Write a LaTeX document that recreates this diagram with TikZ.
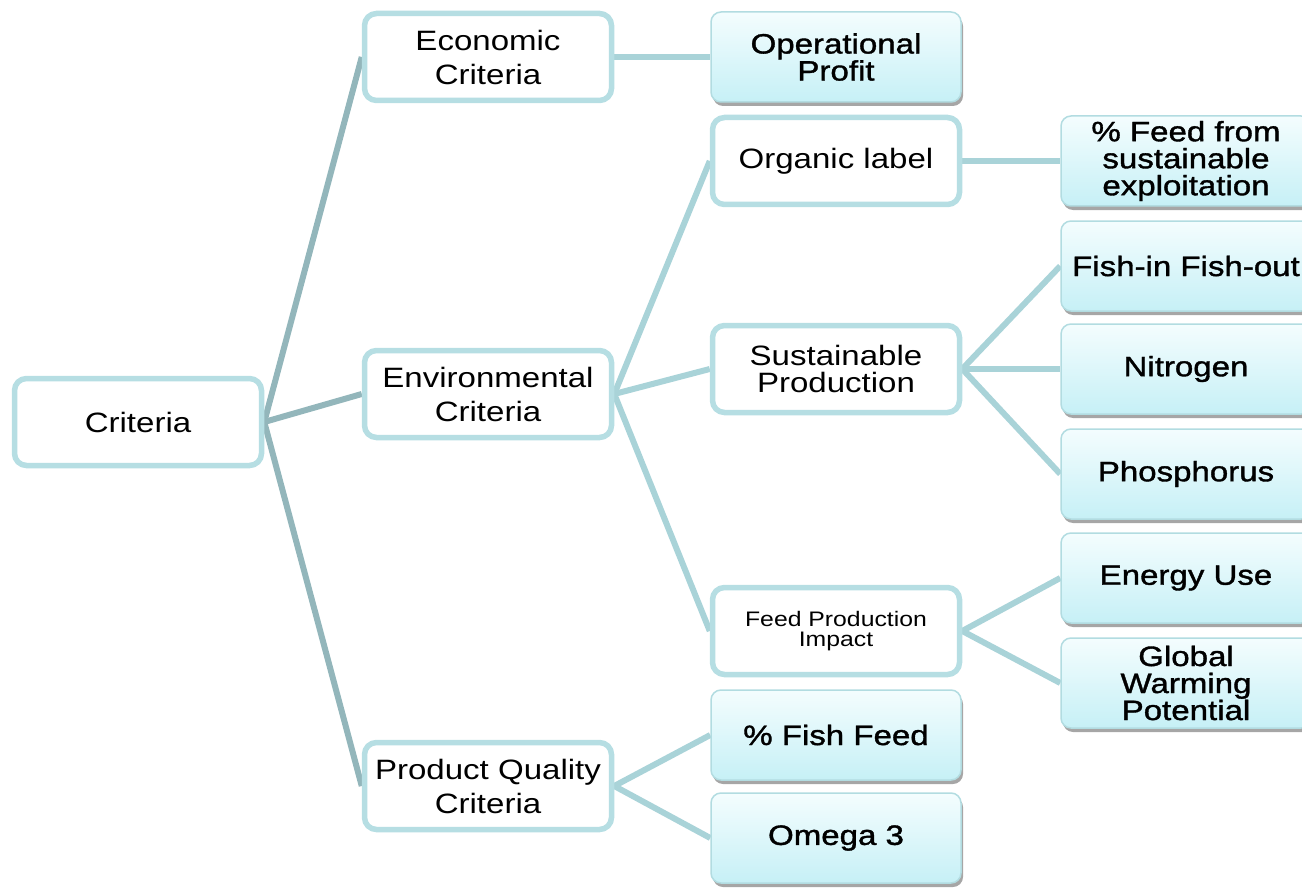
\documentclass[tikz,border=0pt]{standalone}
\usepackage{fontspec}
\setmainfont[FakeStretch=1.18]{Liberation Sans}
\newfontfamily\leaffont[FakeStretch=1.18, FakeBold=1.3]{Liberation Sans}
\usetikzlibrary{shadows,backgrounds}

\definecolor{boxline}{HTML}{B6DEE3}
\definecolor{rootline}{HTML}{93B6BB}
\definecolor{branchline}{HTML}{A9D3D8}
\definecolor{leafline}{HTML}{B2DCE1}
\definecolor{leaftop}{HTML}{F4FDFE}
\definecolor{leafbot}{HTML}{C6F0F6}

\tikzset{
  plainbox/.style={draw=boxline, line width=5.5pt, rounded corners=12pt, fill=white,
    minimum width=247pt, minimum height=87pt, align=center, inner sep=2pt,
    font=\fontsize{28}{34}\selectfont},
  leafbox/.style={draw=leafline, line width=1.5pt, rounded corners=10pt,
    top color=leaftop, bottom color=leafbot,
    drop shadow={shadow xshift=2pt, shadow yshift=-4pt, fill=black, opacity=0.35},
    minimum width=250pt, minimum height=90pt, align=center, inner sep=2pt,
    font=\leaffont\fontsize{28}{27}\selectfont},
  rootlink/.style={draw=rootline, line width=6pt},
  link/.style={draw=branchline, line width=6pt},
}

\begin{document}
\begin{tikzpicture}[x=1pt, y=-1pt]
\useasboundingbox (0,0) rectangle (1302,888);
\clip (0,0) rectangle (1302,888);

% first level
\node[plainbox] (crit) at (138,422) {Criteria};

% second level
\node[plainbox] (econ) at (488,57) {Economic\\Criteria};
\node[plainbox] (env)  at (488,394) {Environmental\\Criteria};
\node[plainbox] (qual) at (488,786) {Product Quality\\Criteria};

% third level
\node[leafbox]  (profit)  at (836,57) {Operational\\Profit};
\node[plainbox] (organic) at (836,161) {Organic label};
\node[plainbox, font=\fontsize{28}{27}\selectfont] (sustprod) at (836,369) {Sustainable\\Production};
\node[plainbox, font=\fontsize{21}{20}\selectfont] (feedimp) at (836,631) {Feed Production\\Impact};
\node[leafbox]  (fishfeed) at (836,735) {\% Fish Feed};
\node[leafbox]  (omega)    at (836,838) {Omega 3};

% fourth level
\node[leafbox] (sustfeed) at (1186,161) {\% Feed from\\sustainable\\exploitation};
\node[leafbox] (fifo)     at (1186,266) {Fish-in Fish-out};
\node[leafbox] (nitro)    at (1186,369) {Nitrogen};
\node[leafbox] (phos)     at (1186,474) {Phosphorus};
\node[leafbox] (energy)   at (1186,578) {Energy Use};
\node[leafbox] (gwp)      at (1186,683) {Global\\Warming\\Potential};

\begin{scope}[on background layer]
  \draw[rootlink] (crit.east) -- (econ.west);
  \draw[rootlink] (crit.east) -- (env.west);
  \draw[rootlink] (crit.east) -- (qual.west);

  \draw[link] (econ.east) -- (profit.west);
  \draw[link] (env.east) -- (organic.west);
  \draw[link] (env.east) -- (sustprod.west);
  \draw[link] (env.east) -- (feedimp.west);
  \draw[link] (qual.east) -- (fishfeed.west);
  \draw[link] (qual.east) -- (omega.west);

  \draw[link] (organic.east) -- (sustfeed.west);
  \draw[link] (sustprod.east) -- (fifo.west);
  \draw[link] (sustprod.east) -- (nitro.west);
  \draw[link] (sustprod.east) -- (phos.west);
  \draw[link] (feedimp.east) -- (energy.west);
  \draw[link] (feedimp.east) -- (gwp.west);
\end{scope}
\end{tikzpicture}
\end{document}
